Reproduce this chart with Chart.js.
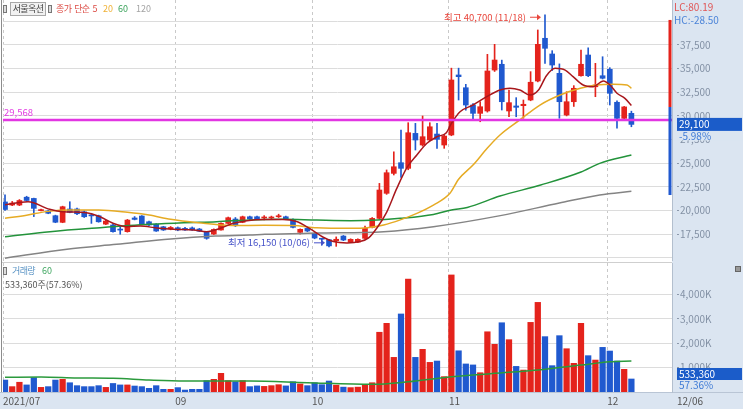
<!DOCTYPE html>
<html>
<head>
<meta charset="utf-8">
<script src="https://cdn.jsdelivr.net/npm/chart.js@4.4.0/dist/chart.umd.min.js"></script>
<style>
  html, body { margin: 0; padding: 0; background: #fff; }
  #wrap { position: relative; width: 743px; height: 409px; overflow: hidden; background: #fff;
          font-family: 'Noto Sans CJK KR', 'Noto Sans', sans-serif; }
  .abs { position: absolute; white-space: pre; line-height: 1; }
  canvas { position: absolute; left: 0; }
  .kr { letter-spacing: -0.6px; }
  .ico { position: absolute; width: 2px; height: 6px; border: 1px solid #777; background: #ddd; }
</style>
</head>
<body>
<div id="wrap">
  <div class="abs" style="left:672px;top:0;width:71px;height:409px;background:#dbe5f1"></div>
  <div class="abs" style="left:0;top:392px;width:743px;height:17px;background:#dbe5f1;border-top:1px solid #b9c5d5;box-sizing:border-box"></div>
  <div class="abs" style="left:1px;top:0;width:1px;height:392px;background:#8c8c8c"></div>
  <div class="abs" style="left:2px;top:262px;width:670px;height:1px;background:#cfcfcf"></div>

  <canvas id="priceChart" width="743" height="261" style="top:0"></canvas>
  <canvas id="volChart" width="743" height="147" style="top:262px"></canvas>

  <!-- price legend -->
  <div class="ico" style="left:3px;top:5px"></div>
  <div class="abs kr" style="left:10px;top:2px;width:34px;height:11px;border:1px solid #a8a8a8;background:#f1f1f1;color:#444;font-size:9px;padding-top:1px;text-align:center">서울옥션</div>
  <div class="ico" style="left:48px;top:5px"></div>
  <div class="abs kr" style="left:56px;top:4px;font-size:9px;color:#dc4b44">종가  단순  5</div>
  <div class="abs" style="left:103px;top:4px;font-size:9px;color:#efb136">20</div>
  <div class="abs" style="left:118px;top:4px;font-size:9px;color:#3aa35b">60</div>
  <div class="abs" style="left:136px;top:4px;font-size:9px;color:#a3a3a3">120</div>

  <!-- volume legend -->
  <div class="ico" style="left:3px;top:267px"></div>
  <div class="abs kr" style="left:12px;top:266px;font-size:9px;color:#5b94c5">거래량</div>
  <div class="abs" style="left:42px;top:266px;font-size:9px;color:#3fa660">60</div>
  <div class="abs" style="left:5px;top:280px;font-size:9px;color:#555">533,360주(57.36%)</div>

  <!-- right panel texts -->
  <div class="abs" style="left:674px;top:2px;font-size:10px;color:#e05656">LC:80.19</div>
  <div class="abs" style="left:674px;top:15px;font-size:10px;color:#4c84d8">HC:-28.50</div>
  <div class="abs" style="left:735px;top:266px;width:4px;height:4px;border:1px solid #666;background:#999"></div>
  <div class="abs" style="left:677px;top:396px;font-size:10px;color:#555">12/06</div>
</div>

<script>
/* ---------- data (daily candles, 88 trading days) ---------- */
const opens = [
  20900, 20570, 20570, 21400, 21270, 19980, 19940, 19440, 18740, 20150,
  20150, 19850, 19500, 19440, 18550, 18460, 17990, 17750, 19200, 19410,
  18800, 18540, 18270, 18050, 18170, 18100, 18150, 18030, 17680, 17500,
  17930, 18630, 19090, 18740, 19330, 19330, 19200, 19200, 19330, 19330,
  19060, 17680, 18100, 17580, 17000, 16900, 16800, 17290, 16650, 16650,
  17050, 18210, 19160, 21810, 23920, 25050, 24450, 28150, 26920, 27450,
  28080, 26920, 27980, 34330, 32980, 31150, 30270, 30520, 34850, 35460,
  30520, 31050, 31080, 31680, 33690, 38210, 36550, 34500, 30090, 31500,
  34250, 36440, 33080, 34250, 34930, 31440, 29740, 30270
];
const highs = [
  21650, 20950, 21150, 21500, 21300, 20150, 20000, 19500, 20450, 20920,
  20250, 19950, 19700, 19500, 18950, 18550, 18280, 19050, 19350, 19450,
  18880, 18600, 18320, 18300, 18250, 18200, 18250, 18100, 17720, 18050,
  18700, 19300, 19250, 19400, 19400, 19400, 19450, 19400, 19600, 19400,
  19100, 18050, 18150, 17650, 17050, 16950, 17200, 17350, 17000, 17000,
  18350, 19250, 22860, 24280, 26200, 28500, 29280, 29210, 29990, 29280,
  29210, 28000, 35050, 35050, 33340, 31300, 31500, 36510, 37570, 35900,
  32740, 31930, 31680, 34680, 39090, 40700, 36900, 35500, 32560, 33200,
  36970, 37200, 35560, 36260, 35100, 31600, 31000, 30500
];
const lows = [
  20000, 20500, 20500, 20950, 19350, 19950, 19650, 18700, 18700, 19750,
  19550, 19250, 18630, 18750, 18500, 17700, 17480, 17700, 19000, 18480,
  18400, 17780, 17880, 17950, 17850, 17880, 17880, 17750, 16950, 17450,
  17900, 18600, 18300, 18700, 19050, 19050, 19000, 19100, 19250, 19050,
  18150, 17500, 17750, 17000, 16330, 16150, 16200, 16800, 16600, 16600,
  17000, 18150, 19100, 21700, 23750, 23500, 24300, 26390, 26800, 27400,
  26570, 26570, 27900, 31680, 30600, 29560, 29380, 30400, 34700, 30620,
  29910, 29910, 29750, 31600, 33600, 35560, 34800, 29750, 30000, 31000,
  34200, 34150, 32030, 33900, 31150, 28690, 29650, 28850
];
const closes = [
  20100, 20780, 21050, 21050, 20220, 20080, 19700, 18750, 20390, 19800,
  19650, 19330, 19420, 18800, 18880, 17750, 17920, 18980, 19050, 18530,
  18460, 17820, 17930, 18200, 17930, 17930, 17930, 17800, 17050, 17990,
  18630, 19230, 18380, 19330, 19100, 19100, 19260, 19260, 19400, 19100,
  18210, 18000, 17820, 17080, 16950, 16250, 16950, 16870, 16940, 16940,
  18100, 19160, 22160, 23990, 24620, 24450, 28220, 27450, 27800, 28850,
  27520, 27870, 33800, 34150, 31150, 30270, 30970, 34750, 35910, 31500,
  31400, 30910, 31230, 33560, 37570, 37150, 35380, 31500, 31500, 32920,
  35460, 34250, 33270, 33980, 32390, 29740, 30950, 29100
];
const volumes = [
  490000, 220000, 400000, 290000, 590000, 190000, 220000, 490000, 520000, 380000,
  260000, 220000, 220000, 260000, 190000, 350000, 290000, 290000, 245000, 220000,
  150000, 260000, 110000, 110000, 180000, 80000, 110000, 110000, 465000, 520000,
  765000, 465000, 420000, 465000, 220000, 250000, 230000, 260000, 300000, 250000,
  420000, 330000, 260000, 380000, 300000, 450000, 280000, 200000, 180000, 200000,
  300000, 380000, 2450000, 2815000, 1420000, 3200000, 4630000, 1420000, 1750000, 1215000,
  1270000, 630000, 4800000, 1690000, 1150000, 1110000, 790000, 2470000, 1955000, 2840000,
  2145000, 1050000, 900000, 2855000, 3675000, 2270000, 1080000, 2310000, 1775000, 1175000,
  2815000, 1490000, 1310000, 1830000, 1680000, 1270000, 930000, 533360
];

/* moving averages, [day index, value] read at intervals */
const ma5 = [
  [0, 20600], [3.2, 20920], [6.2, 20120], [8.1, 19860], [11.3, 19760], [13.2, 19330],
  [15, 18640], [16.9, 18280], [18.8, 18350], [21.1, 18140], [23.4, 18000], [26.2, 17930],
  [28, 17750], [29.9, 18110], [31.7, 18640], [33.6, 18920], [36, 19030], [38.6, 19030],
  [40.5, 18820], [42.4, 18040], [44.2, 17160], [45.6, 16710], [47.5, 16560], [49.3, 16710],
  [50.5, 17100], [51.7, 18200], [53, 19800], [54.4, 22300], [55.8, 24500], [57.2, 25860],
  [58.6, 27100], [60, 27800], [61.3, 28220], [62, 29200], [63.2, 30440], [65, 31150],
  [66.9, 32030], [68.75, 32740], [70.1, 32920], [71.5, 32740], [72.9, 32210], [74.1, 32740],
  [75.2, 34250], [76.4, 35030], [77.8, 34850], [78.9, 34150], [80.3, 33270], [81.7, 33090],
  [83.1, 33700], [84, 33300], [85, 32400], [86.1, 31860], [87, 31100]
];
const ma20 = [
  [0, 19160], [3, 19500], [6, 19900], [9, 20040], [13, 20040], [17, 19800], [20, 19510],
  [23, 19060], [26.8, 18700], [31.5, 18400], [36, 18420], [40, 18400], [43.3, 18170],
  [48, 18110], [50.3, 18170], [52.6, 18460], [54.9, 19000], [57.2, 19690], [59.5, 20570],
  [61.8, 21810], [63, 23300], [65, 24800], [67, 26600], [68.75, 27980], [71.5, 29570],
  [74.3, 31150], [77.1, 32210], [79.9, 32920], [82.2, 33270], [84.5, 33340], [86.4, 33270],
  [87, 32920]
];
const ma60 = [
  [0, 17220], [6.25, 17750], [13.2, 18170], [20.1, 18530], [24.8, 18700], [29.4, 18810],
  [34, 19000], [38.6, 19060], [43.3, 18980], [48, 18920], [51.7, 18980], [54.9, 19160],
  [59.5, 19580], [62, 20040], [64.2, 20320], [68.75, 21520], [74.4, 22690], [80, 24060],
  [82.6, 24980], [87, 25860]
];
const ma120 = [
  [0, 14950], [8.6, 15900], [15.5, 16410], [23, 16980], [29.2, 17290], [34, 17400],
  [36.1, 17470], [43.3, 17600], [52.6, 17750], [59.5, 18280], [68.8, 19450], [77, 20780],
  [82.6, 21640], [87, 22020]
];
const volMa60 = [
  [0, 600000], [5, 615000], [10, 575000], [15, 560000], [20, 490000], [25, 450000],
  [30, 450000], [34, 450000], [42, 380000], [51, 315000], [56, 420000], [62, 625000],
  [70, 805000], [74, 900000], [80, 1105000], [84, 1240000], [87, 1270000]
];

const monthStarts = [0, 24, 43, 62, 84];
const monthLabels = ['2021/07', '09', '10', '11', '12'];
const priceTicks = [15000, 17500, 20000, 22500, 25000, 27500, 30000, 32500, 35000, 37500, 40000];
const volTicks = [1000000, 2000000, 3000000, 4000000];

const refLine = 29568;
const highMark = { day: 75, price: 40700, text: '최고 40,700 (11/18)' };
const lowMark = { day: 45, price: 16150, text: '최저 16,150 (10/06)' };
const lastPrice = 29100, lastChange = '-5.98%';
const lastVolume = 533360, lastVolumePct = '57.36%';
const lcRange = [40150, 30940], hcRange = [30940, 21630];

/* ---------- setup ---------- */
const RED = '#e4231c', BLUE = '#2059cf', PANEL = '#dbe5f1';
const X_MIN = -0.28, X_MAX = 92.64;
const P_MIN = 14650, P_MAX = 42260, V_MAX = 5290000;
const FONT = "'Noto Sans CJK KR', 'Noto Sans', sans-serif";

Chart.defaults.font.family = FONT;
Chart.defaults.font.size = 10;

const days = closes.map((_, i) => i);
const candleColors = days.map(i => closes[i] >= opens[i] ? RED : BLUE);
const pts = arr => arr.map(([x, y]) => ({ x, y }));
const labelled = v => v >= 17500 && v <= 37500;

function maLine(points, color, order) {
  return {
    type: 'line', data: pts(points), borderColor: color, borderWidth: 1.5,
    pointRadius: 0, cubicInterpolationMode: 'monotone', order
  };
}

function text(ctx, str, x, y, color, align, size) {
  ctx.font = (size || 9) + 'px ' + FONT;
  ctx.fillStyle = color;
  ctx.textAlign = align || 'left';
  ctx.textBaseline = 'middle';
  ctx.fillText(str, x, y);
}

function arrow(ctx, x0, x1, y, color) {
  ctx.strokeStyle = color; ctx.fillStyle = color; ctx.lineWidth = 1;
  ctx.beginPath(); ctx.moveTo(x0, y); ctx.lineTo(x1 - 3, y); ctx.stroke();
  ctx.beginPath(); ctx.moveTo(x1, y); ctx.lineTo(x1 - 4, y - 3); ctx.lineTo(x1 - 4, y + 3);
  ctx.closePath(); ctx.fill();
}

const xMonthGrid = {
  type: 'linear', min: X_MIN, max: X_MAX, offset: false,
  afterBuildTicks: s => { s.ticks = monthStarts.map(m => ({ value: Math.max(X_MIN, m - 0.35) })); },
  grid: { color: '#c9c9c9', drawTicks: false, offset: false },
  border: { display: false, dash: [3, 3] }
};

/* ---------- price chart ---------- */
const priceMarks = {
  id: 'priceMarks',
  afterDraw(chart) {
    const { ctx, chartArea: a, scales: { x, y } } = chart;
    ctx.save();
    // range bar at the right edge
    ctx.fillStyle = RED;
    ctx.fillRect(a.right - 3.5, y.getPixelForValue(lcRange[0]), 3,
      y.getPixelForValue(lcRange[1]) - y.getPixelForValue(lcRange[0]));
    ctx.fillStyle = BLUE;
    ctx.fillRect(a.right - 3.5, y.getPixelForValue(hcRange[0]), 3,
      y.getPixelForValue(hcRange[1]) - y.getPixelForValue(hcRange[0]));

    // reference line label
    text(ctx, refLine.toLocaleString('en-US'), a.left + 1, y.getPixelForValue(refLine) - 8, '#e23ce2', 'left', 9.5);

    // high / low annotations
    let hx = x.getPixelForValue(highMark.day), hy = y.getPixelForValue(highMark.price) + 2.5;
    text(ctx, highMark.text, hx - 19, hy, '#e8463c', 'right', 9.5);
    arrow(ctx, hx - 15, hx - 4, hy, '#e8463c');
    let lx = x.getPixelForValue(lowMark.day), ly = y.getPixelForValue(lowMark.price) - 4;
    text(ctx, lowMark.text, lx - 19, ly, '#4652c9', 'right', 9.5);
    arrow(ctx, lx - 15, lx - 4, ly, '#4652c9');

    // last price box
    const py = y.getPixelForValue(lastPrice);
    ctx.fillStyle = PANEL;
    ctx.fillRect(a.right + 1, py + 6, 70, 10);
    ctx.fillStyle = '#1b5cc9';
    ctx.fillRect(a.right + 5, py - 6.5, 65, 13);
    text(ctx, lastPrice.toLocaleString('en-US'), a.right + 7, py, '#fff', 'left', 10);
    text(ctx, lastChange, a.right + 7, py + 11.5, '#3f7bd6', 'left', 10);
    ctx.restore();
  }
};

new Chart(document.getElementById('priceChart'), {
  type: 'bar',
  data: {
    datasets: [
      { data: [{ x: X_MIN, y: refLine }, { x: X_MAX, y: refLine }], type: 'line',
        borderColor: '#e236e2', borderWidth: 2.5, pointRadius: 0, order: 0 },
      maLine(ma5, '#a8171c', 1),
      maLine(ma20, '#e6ab24', 2),
      maLine(ma60, '#23933b', 3),
      maLine(ma120, '#848484', 4),
      { data: days.map(i => ({ x: i, y: [opens[i], closes[i]] })), backgroundColor: candleColors,
        barThickness: 5, minBarLength: 1, grouped: false, order: 5 },
      { data: days.map(i => ({ x: i, y: [lows[i], highs[i]] })), backgroundColor: candleColors,
        barThickness: 1, grouped: false, order: 6 }
    ]
  },
  options: {
    responsive: false, animation: false, devicePixelRatio: 1,
    layout: { padding: { left: 3, right: 0, top: 0, bottom: 0 } },
    plugins: { legend: { display: false }, tooltip: { enabled: false } },
    scales: {
      x: Object.assign({}, xMonthGrid, {
        ticks: { display: false },
        afterFit: s => { s.height = 0; s.paddingLeft = 0; s.paddingRight = 0; }
      }),
      y: {
        position: 'right', min: P_MIN, max: P_MAX,
        afterBuildTicks: s => { s.ticks = priceTicks.map(value => ({ value })); },
        afterFit: s => { s.width = 71; s.paddingTop = 0; s.paddingBottom = 0; },
        grid: {
          color: '#dcdcdc', tickLength: 7, tickBorderDash: [0, 4, 3, 30],
          tickColor: c => (c.tick && labelled(c.tick.value)) ? '#8c99ab' : 'rgba(0,0,0,0)'
        },
        border: { color: '#b3bfce' },
        ticks: {
          padding: 1, color: '#8391a5', font: { size: 10 },
          callback: v => labelled(v) ? v.toLocaleString('en-US') : ''
        }
      }
    }
  },
  plugins: [priceMarks]
});

/* ---------- volume chart ---------- */
const volMarks = {
  id: 'volMarks',
  afterDraw(chart) {
    const { ctx, chartArea: a, scales: { y } } = chart;
    ctx.save();
    const vy = y.getPixelForValue(lastVolume);
    ctx.fillStyle = '#1b5cc9';
    ctx.fillRect(a.right + 5, vy - 11, 65, 12);
    text(ctx, lastVolume.toLocaleString('en-US'), a.right + 7, vy - 5, '#fff', 'left', 10);
    text(ctx, lastVolumePct, a.right + 7, vy + 6, '#3f7bd6', 'left', 10);
    ctx.restore();
  }
};

new Chart(document.getElementById('volChart'), {
  type: 'bar',
  data: {
    datasets: [
      { type: 'line', data: pts(volMa60), borderColor: '#2b9a3c', borderWidth: 1.5,
        pointRadius: 0, cubicInterpolationMode: 'monotone', order: 0 },
      { data: days.map(i => ({ x: i, y: volumes[i] })), backgroundColor: candleColors,
        barThickness: 5.6, grouped: false, order: 1 }
    ]
  },
  options: {
    responsive: false, animation: false, devicePixelRatio: 1,
    layout: { padding: { left: 3, right: 0, top: 1, bottom: 0 } },
    plugins: { legend: { display: false }, tooltip: { enabled: false } },
    scales: {
      x: Object.assign({}, xMonthGrid, {
        afterFit: s => { s.height = 17; s.paddingLeft = 0; s.paddingRight = 0; },
        ticks: {
          align: 'start', padding: 3, color: '#555', autoSkip: false, maxRotation: 0,
          font: { size: 10 }, callback: (v, i) => monthLabels[i]
        }
      }),
      y: {
        position: 'right', min: 0, max: V_MAX,
        afterBuildTicks: s => { s.ticks = volTicks.map(value => ({ value })); },
        afterFit: s => { s.width = 71; s.paddingTop = 0; s.paddingBottom = 0; },
        grid: { color: '#dcdcdc', tickColor: '#8c99ab', tickLength: 7, tickBorderDash: [0, 4, 3, 30] },
        border: { color: '#b3bfce' },
        ticks: {
          padding: 1, color: '#8391a5', font: { size: 10 },
          callback: v => (v / 1000).toLocaleString('en-US') + 'K'
        }
      }
    }
  },
  plugins: [volMarks]
});
</script>
</body>
</html>
